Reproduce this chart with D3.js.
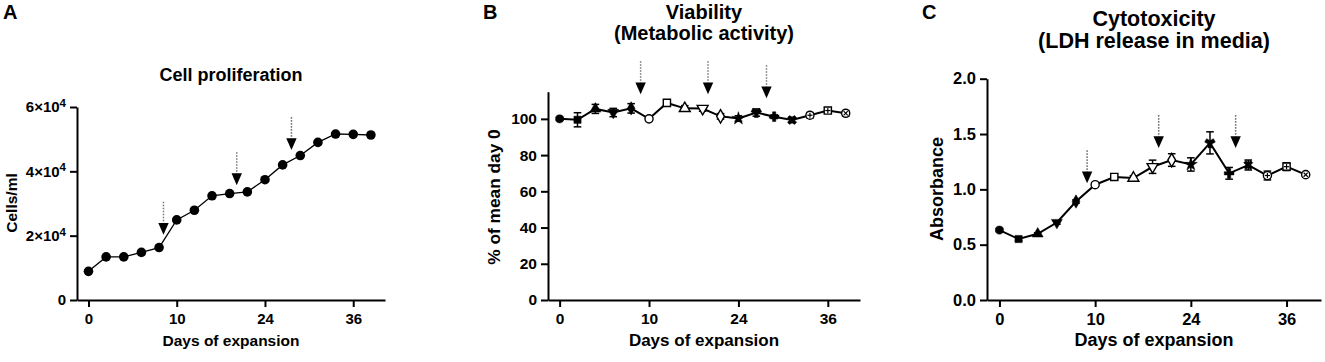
<!DOCTYPE html>
<html><head><meta charset="utf-8">
<script src="https://cdn.jsdelivr.net/npm/d3@7"></script>
<style>
body{margin:0;background:#fff}
svg text{font-family:"Liberation Sans",Arial,Helvetica,sans-serif;font-weight:bold;fill:#000}
</style>
</head><body>
<svg id="chart" width="1325" height="362"></svg>
<script>
// ---------- data ----------
const pointIndex = [0,1,2,3,4,5,6,7,8,9,10,11,12,13,14,15,16];
const tickIndex = [0,5,10,15];
const tickLabels = ["0","10","24","36"];

const cellsPerMl = [8900,13400,13400,14800,16300,24900,27900,32400,33100,33600,37400,42000,44900,49000,51600,51500,51300];

const viabilityPct = [100,99.5,105.5,103.5,105.8,100,108.8,105.8,105.7,101.4,100.2,103.5,101.2,99.4,102,104.6,103.1];
const viabilityErr = [0.8,3.9,2.5,2.3,2.6,0.8,1.5,1.5,1.5,1.5,1.5,2,1,1.5,1.5,1.5,1.5];

const absorbance = [0.632,0.551,0.598,0.70,0.89,1.042,1.112,1.102,1.204,1.265,1.225,1.42,1.145,1.22,1.125,1.205,1.133];
const absorbanceErr = [0.01,0.015,0.01,0.015,0.015,0.015,0.02,0.02,0.06,0.057,0.06,0.1,0.053,0.045,0.04,0.035,0.015];

const yTicksA = [0,20000,40000,60000];
const yTicksB = [0,20,40,60,80,100];
const yTicksC = [0,0.5,1.0,1.5,2.0];

const arrowXA = [4.25,8.4,11.5];
const arrowTipA = [20300,35700,46600];
const arrowXB = [4.53,8.3,11.57];
const arrowTipB = [113.6,113.6,111.4];
const arrowXC = [4.58,8.32,12.34];
const arrowTipC = [1.054,1.373,1.373];

// ---------- drawing ----------
const svg = d3.select("#chart");

const markerSpecs = [
  {t:"circle",f:1},{t:"square",f:1},{t:"triangle",f:1},{t:"triDown",f:1},{t:"diamond",f:1},
  {t:"circle",f:0},{t:"square",f:0},{t:"triangle",f:0},{t:"triDown",f:0},{t:"diamond",f:0},
  {t:"star",f:1},{t:"wye",f:1},{t:"cross",f:1},{t:"times",f:1},
  {t:"circle",f:0,inner:"plus"},{t:"square",f:0,inner:"plus"},{t:"circle",f:0,inner:"x"}
];
const symType = {circle:d3.symbolCircle,square:d3.symbolSquare,triangle:d3.symbolTriangle,
  triDown:d3.symbolTriangle,diamond:d3.symbolDiamond,star:d3.symbolStar,wye:d3.symbolWye,
  cross:d3.symbolCross,times:d3.symbolCross};

function drawMarker(g, spec, size){
  const p = d3.symbol().type(symType[spec.t]).size(size)();
  let rot = 0;
  if (spec.t==="triDown") rot = 180;
  if (spec.t==="times") rot = 45;
  g.append("path").attr("d", p).attr("transform", rot?`rotate(${rot})`:null)
    .attr("fill", spec.f ? "#000" : "#fff").attr("stroke","#000").attr("stroke-width", spec.f?0.5:1.4);
  if (spec.inner){
    const r = 2.6;
    const segs = spec.inner==="plus" ? [[-r,0,r,0],[0,-r,0,r]] : [[-r*0.8,-r*0.8,r*0.8,r*0.8],[-r*0.8,r*0.8,r*0.8,-r*0.8]];
    segs.forEach(s=>g.append("line").attr("x1",s[0]).attr("y1",s[1]).attr("x2",s[2]).attr("y2",s[3])
      .attr("stroke","#000").attr("stroke-width",1.2));
  }
}

function panel(cfg){
  const x = d3.scaleLinear().domain([-0.65,16.8]).range([cfg.x0,cfg.x1]);
  const y = d3.scaleLinear().domain(cfg.yDomain).range([300,cfg.yTop]);
  const g = svg.append("g");
  const fs = cfg.fonts; // [tick, axisLabel, title, yLabel]

  // axes
  const xa = g.append("g").attr("transform","translate(0,300)")
    .call(d3.axisBottom(x).tickValues(tickIndex).tickFormat((d,i)=>tickLabels[i]).tickSize(7).tickSizeOuter(0).tickPadding(6));
  const ya = g.append("g").attr("transform",`translate(${cfg.x0},0)`)
    .call(d3.axisLeft(y).tickValues(cfg.yTicks).tickFormat(cfg.yFormat).tickSize(7).tickSizeOuter(0).tickPadding(4));
  [xa,ya].forEach(a=>{
    a.attr("font-size", fs[0]).attr("font-family", '"Liberation Sans",Arial,sans-serif').attr("font-weight","bold");
    a.selectAll("path.domain").attr("stroke","#000").attr("stroke-width",2);
    a.selectAll(".tick line").attr("stroke","#000").attr("stroke-width",2);
    a.selectAll(".tick text").attr("font-size", fs[0]).style("font-size",fs[0]+"px").style("font-weight","bold");
  });
  if (cfg.superscript){
    ya.selectAll(".tick text").each(function(d){
      const t = d3.select(this);
      if (d===0) return;
      t.text(null);
      t.append("tspan").text(`${d/10000}×10`);
      t.append("tspan").text("4").attr("dy","-0.45em").style("font-size","11.5px");
    });
  }

  // error bars
  if (cfg.err){
    const eg = g.append("g").attr("stroke","#000").attr("stroke-width",1.5);
    pointIndex.forEach((d,i)=>{
      const cx = x(d), e = cfg.err[i], v = cfg.values[i];
      const yt = y(v+e), yb = y(v-e);
      eg.append("line").attr("x1",cx).attr("x2",cx).attr("y1",yt).attr("y2",yb);
      eg.append("line").attr("x1",cx-3.8).attr("x2",cx+3.8).attr("y1",yt).attr("y2",yt);
      eg.append("line").attr("x1",cx-3.8).attr("x2",cx+3.8).attr("y1",yb).attr("y2",yb);
    });
  }
  // line
  g.append("path").datum(pointIndex)
    .attr("d", d3.line().x(d=>x(d)).y((d,i)=>y(cfg.values[i])))
    .attr("fill","none").attr("stroke","#000").attr("stroke-width",cfg.lineW);
  // markers
  pointIndex.forEach((d,i)=>{
    const mg = g.append("g").attr("transform",`translate(${x(d)},${y(cfg.values[i])})`);
    if (cfg.allCircles) mg.append("circle").attr("r",4.8).attr("fill","#000");
    else drawMarker(mg, markerSpecs[i], 52);
  });
  // arrows
  cfg.arrowX.forEach((ax,i)=>{
    const cx = x(ax), tip = y(cfg.arrowTip[i]);
    g.append("line").attr("x1",cx).attr("x2",cx).attr("y1",tip-33).attr("y2",tip-11.5)
      .attr("stroke","#777").attr("stroke-width",1.5).attr("stroke-dasharray","1.6,1.4");
    g.append("path").attr("d",`M${cx-5.2},${tip-11.8}L${cx+5.2},${tip-11.8}L${cx},${tip}Z`).attr("fill","#000");
  });

  // labels
  const cx = (cfg.x0+cfg.x1)/2;
  cfg.title.forEach((t,i)=>{
    g.append("text").attr("x",cx).attr("y",cfg.titleY[i]).attr("text-anchor","middle")
      .style("font-size",fs[2]+"px").text(t);
  });
  g.append("text").attr("x",cx).attr("y",346).attr("text-anchor","middle").style("font-size",fs[1]+"px").text("Days of expansion");
  g.append("text").attr("transform",`translate(${cfg.yLabelX},${cfg.yLabelY}) rotate(-90)`)
    .attr("text-anchor","middle").style("font-size",fs[3]+"px").text(cfg.yLabel);
  g.append("text").attr("x",cfg.letterX).attr("y",19).style("font-size","20px").text(cfg.letter);
}

panel({x0:77,x1:385,yDomain:[0,60000],yTop:107,yTicks:yTicksA,yFormat:d=>d,superscript:true,
  values:cellsPerMl,err:null,lineW:1.3,allCircles:true,arrowX:arrowXA,arrowTip:arrowTipA,fonts:[15,15.5,18,15.5],
  title:["Cell proliferation"],titleY:[81],yLabel:"Cells/ml",yLabelX:17,yLabelY:203,letter:"A",letterX:3});

panel({x0:548,x1:860,yDomain:[0,115],yTop:91.7,yTicks:yTicksB,yFormat:d=>d,
  values:viabilityPct,err:viabilityErr,lineW:2,arrowX:arrowXB,arrowTip:arrowTipB,fonts:[15.5,17,20,17.3],
  title:["Viability","(Metabolic activity)"],titleY:[19,40],yLabel:"% of mean day 0",yLabelX:500,yLabelY:197,letter:"B",letterX:483});

panel({x0:987,x1:1321,yDomain:[0,2],yTop:78.7,yTicks:yTicksC,yFormat:d3.format(".1f"),
  values:absorbance,err:absorbanceErr,lineW:2,arrowX:arrowXC,arrowTip:arrowTipC,fonts:[16.5,18,21.5,18],
  title:["Cytotoxicity","(LDH release in media)"],titleY:[26,48],yLabel:"Absorbance",yLabelX:943,yLabelY:189,letter:"C",letterX:922});
</script>
</body></html>
